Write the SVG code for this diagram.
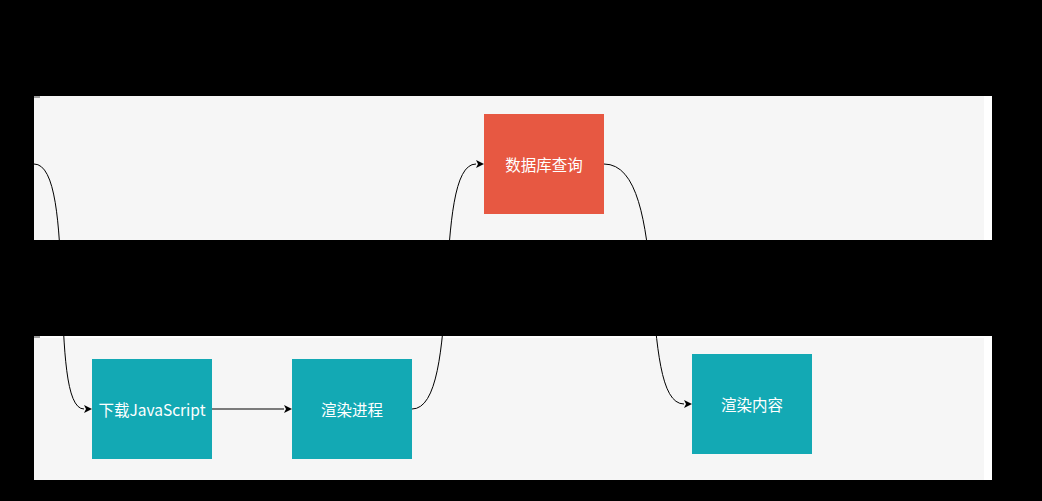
<svg xmlns="http://www.w3.org/2000/svg" width="1042" height="501" viewBox="0 0 1042 501">
  <defs>
    <style>
      .band-edge { fill: #ffffff; }
      .band { fill: #f6f6f6; }
      .mark { fill: #a0a0a0; }
      .teal { fill: #13a9b4; }
      .red { fill: #e75842; }
      .label { fill: #ffffff; font-family: "Noto Sans CJK SC", "Noto Sans", sans-serif; font-size: 15.5px; text-anchor: middle; dominant-baseline: central; }
      .edge { fill: none; stroke: #000000; stroke-width: 1; }
    </style>
    <marker id="arrow" markerUnits="userSpaceOnUse" markerWidth="9" markerHeight="9" refX="0" refY="4" orient="auto" overflow="visible">
      <path d="M0,0 L8,4 L0,8 L2,4 z" fill="#000000"/>
    </marker>
  </defs>

  <rect x="0" y="0" width="1042" height="501" fill="#000000"/>

  <g id="lane-top">
    <rect class="band-edge" x="34" y="96" width="958" height="144"/>
    <rect class="band" x="34" y="96" width="950" height="144"/>
    <rect class="mark" x="34" y="96" width="6" height="2"/>
  </g>
  <g id="lane-bottom">
    <rect class="band-edge" x="34" y="336" width="958" height="144"/>
    <rect class="band" x="34" y="338" width="950" height="142"/>
    <rect class="mark" x="34" y="336" width="6" height="2"/>
  </g>

  <g id="connectors">
    <path class="edge" d="M34,164 C78,164 47,409 84,409" marker-end="url(#arrow)"/>
    <path class="edge" d="M212,409 L284,409" marker-end="url(#arrow)"/>
    <path class="edge" d="M412,409 C463,409 431,164 476,164" marker-end="url(#arrow)"/>
    <path class="edge" d="M604,164 C672,164 636,404 684,404" marker-end="url(#arrow)"/>
  </g>

  <g id="node-db-query">
    <rect class="red" x="484" y="114" width="120" height="100"/>
    <text class="label" x="544" y="164">数据库查询</text>
  </g>
  <g id="node-download-js">
    <rect class="teal" x="92" y="359" width="120" height="100"/>
    <text class="label" x="152" y="409">下载JavaScript</text>
  </g>
  <g id="node-render-process">
    <rect class="teal" x="292" y="359" width="120" height="100"/>
    <text class="label" x="352" y="409">渲染进程</text>
  </g>
  <g id="node-render-content">
    <rect class="teal" x="692" y="354" width="120" height="100"/>
    <text class="label" x="752" y="404">渲染内容</text>
  </g>
</svg>
